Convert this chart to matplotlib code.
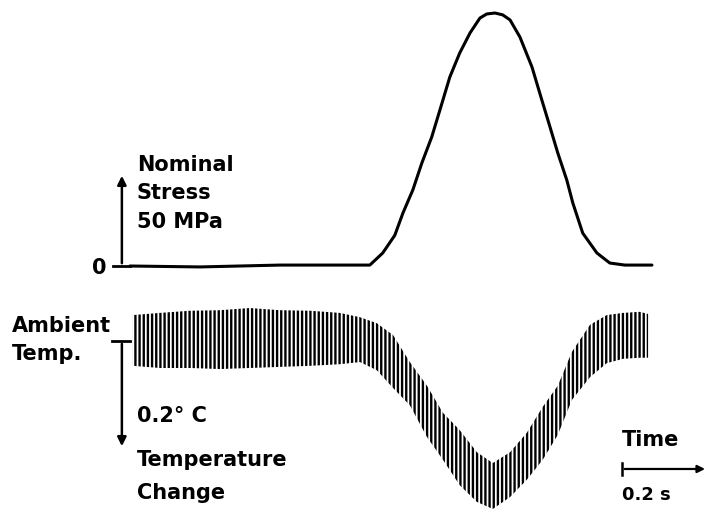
import numpy as np
import matplotlib
matplotlib.use("Agg")
import matplotlib.pyplot as plt

# stress trace, time in s, nominal stress in MPa
t_stress = [0.000, 0.163, 0.349, 0.512, 0.558, 0.588, 0.616, 0.635, 0.658, 0.679,
            0.702, 0.721, 0.744, 0.767, 0.791, 0.814, 0.830, 0.849, 0.867, 0.884,
            0.907, 0.935, 0.958, 0.977, 0.995, 1.016, 1.030, 1.053, 1.086, 1.116,
            1.151, 1.214]
stress = [0.0, -0.5, 0.5, 0.5, 0.5, 7.0, 16.5, 28.5, 40.9, 55.4,
          69.4, 83.9, 101.6, 114.5, 125.3, 133.3, 135.5, 136.0, 135.0, 132.3,
          123.1, 107.0, 89.2, 74.7, 60.8, 46.2, 33.9, 17.7, 7.0, 1.6,
          0.5, 0.5]

# temperature trace (noisy band), upper and lower edge in deg C
t_temp = [0.007, 0.070, 0.140, 0.209, 0.279, 0.349, 0.419, 0.488, 0.535, 0.574,
          0.612, 0.651, 0.691, 0.728, 0.767, 0.807, 0.844, 0.884, 0.923, 0.960,
          0.995, 1.028, 1.070, 1.109, 1.147, 1.186, 1.205]
temp_hi = [0.048, 0.052, 0.056, 0.057, 0.061, 0.057, 0.056, 0.052, 0.044, 0.033,
           0.011, -0.039, -0.083, -0.133, -0.165, -0.206, -0.226, -0.206, -0.170, -0.122,
           -0.083, -0.020, 0.030, 0.048, 0.052, 0.054, 0.050]
temp_lo = [-0.046, -0.050, -0.050, -0.052, -0.050, -0.048, -0.046, -0.043, -0.039, -0.054,
           -0.087, -0.119, -0.178, -0.220, -0.267, -0.298, -0.311, -0.289, -0.257, -0.220,
           -0.174, -0.109, -0.067, -0.041, -0.033, -0.031, -0.031]

plt.rcParams['hatch.linewidth'] = 1.7
fs = 15

fig = plt.figure(figsize=(7.1, 5.13), dpi=100)
ax1 = fig.add_axes([0, 1 - 290/513, 1, 290/513])
ax2 = fig.add_axes([0, 0, 1, 223/513])
for ax in (ax1, ax2):
    ax.set_xlim(-0.302, 1.349)
    ax.axis("off")
ax1.set_ylim(-12.9, 143.0)
ax2.set_ylim(-0.3185, 0.0944)

# stress
ax1.plot(t_stress, stress, color="black", lw=2.2, solid_capstyle="round",
         solid_joinstyle="round")
ax1.annotate("", xy=(-0.0186, 50), xytext=(-0.0186, 0),
             arrowprops=dict(arrowstyle="-|>", color="black", lw=1.8, mutation_scale=13))
ax1.plot([-0.040, 0.0], [0, 0], color="black", lw=2)
ax1.text(-0.072, -1.1, "0", fontsize=fs, fontweight="bold", ha="center", va="center")
for lab, yv in zip(["Nominal", "Stress", "50 MPa"], [54.3, 39.2, 23.7]):
    ax1.text(0.0163, yv, lab, fontsize=fs, fontweight="bold", ha="left", va="center")

# temperature band
ax2.fill_between(t_temp, temp_lo, temp_hi, facecolor="white", edgecolor="black",
                 hatch="||||", linewidth=0)
ax2.plot([-0.042, 0.0], [0, 0], color="black", lw=2)
ax2.annotate("", xy=(-0.0186, -0.2), xytext=(-0.0186, 0),
             arrowprops=dict(arrowstyle="-|>", color="black", lw=1.8, mutation_scale=13))
ax2.text(-0.274, 0.028, "Ambient", fontsize=fs, fontweight="bold", ha="left", va="center")
ax2.text(-0.274, -0.024, "Temp.", fontsize=fs, fontweight="bold", ha="left", va="center")
ax2.text(0.0163, -0.139, "0.2° C", fontsize=fs, fontweight="bold", ha="left", va="center")
ax2.text(0.0163, -0.220, "Temperature", fontsize=fs, fontweight="bold", ha="left", va="center")
ax2.text(0.0163, -0.281, "Change", fontsize=fs, fontweight="bold", ha="left", va="center")

# time scale
ax2.text(1.144, -0.183, "Time", fontsize=fs, fontweight="bold", ha="left", va="center")
ax2.plot([1.144, 1.144], [-0.225, -0.249], color="black", lw=1.8)
ax2.annotate("", xy=(1.344, -0.237), xytext=(1.144, -0.237),
             arrowprops=dict(arrowstyle="-|>", color="black", lw=1.6, mutation_scale=11))
ax2.text(1.144, -0.285, "0.2 s", fontsize=13, fontweight="bold", ha="left", va="center")

fig.savefig("out.png", dpi=100)
